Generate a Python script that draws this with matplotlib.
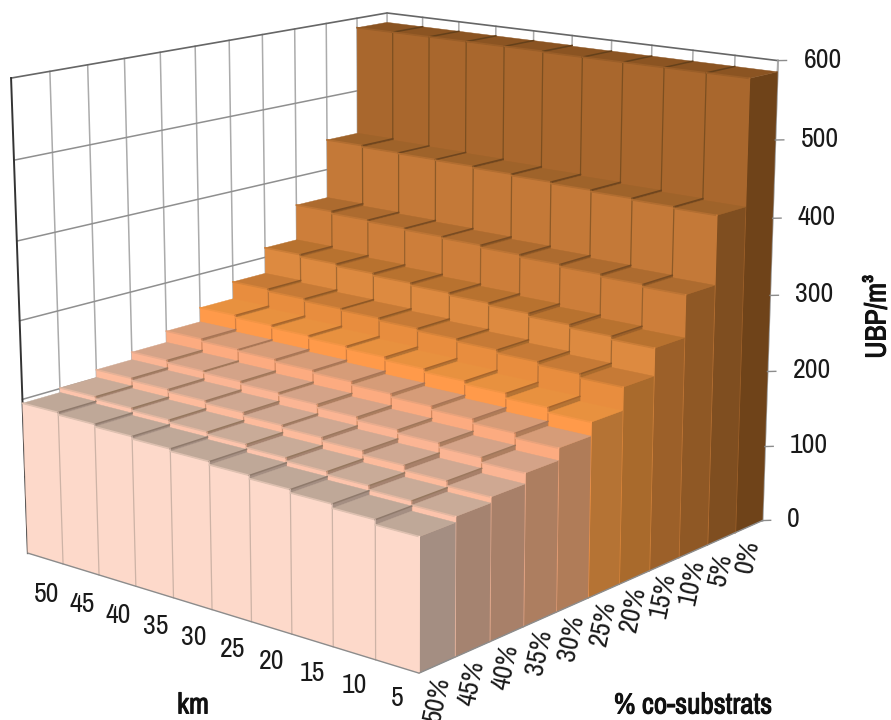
import numpy as np
import matplotlib
matplotlib.use('Agg')
import matplotlib.pyplot as plt
import matplotlib.colors as mcolors
import matplotlib.patheffects as pe

plt.rcParams['font.family'] = ['Archivo Narrow', 'PT Sans Narrow', 'Liberation Sans', 'DejaVu Sans']

# data
km_labels = ['50', '45', '40', '35', '30', '25', '20', '15', '10', '5']
cosub_labels = ['50%', '45%', '40%', '35%', '30%', '25%', '20%', '15%', '10%', '5%', '0%']
z_ticks = [0, 100, 200, 300, 400, 500, 600]

pct50 = [195, 192, 189, 186, 183, 179, 175, 171, 166, 160]
pct45 = [201, 198, 195, 192, 189, 185, 181, 177, 172, 167]
pct40 = [211, 208, 205, 202, 198, 195, 191, 186, 180, 174]
pct35 = [221, 218, 216, 213, 210, 206, 202, 198, 193, 187]
pct30 = [236, 233, 231, 228, 225, 221, 217, 213, 208, 202]
pct25 = [255, 252, 249, 246, 243, 239, 235, 231, 225, 219]
pct20 = [278, 275, 272, 270, 267, 264, 261, 257, 253, 248]
pct15 = [313, 310, 307, 304, 301, 298, 295, 291, 287, 283]
pct10 = [361, 358, 356, 354, 352, 349, 346, 343, 340, 337]
pct5 = [441, 439, 438, 437, 435, 433, 431, 429, 427, 425]
pct0 = [587, 587, 587, 587, 587, 586, 586, 586, 586, 586]
rows = [pct50, pct45, pct40, pct35, pct30, pct25, pct20, pct15, pct10, pct5, pct0]

# colours per row: front, top, side, front divider, top divider
front_cols = ['#fdd9ca', '#fdc4ac', '#fdbb9c', '#fbb594', '#fcab80', '#ff9a4a', '#e88d3e', '#dd8a40', '#cd7e3a', '#c47938', '#a9672d']
top_cols = ['#bfa898', '#c9ab98', '#cfa892', '#d4a388', '#d69c78', '#e8913f', '#c67a36', '#b8722f', '#ad6b2f', '#9f632a', '#8b5422']
side_cols = ['#a48e82', '#a58370', '#a88069', '#ad7e60', '#b07c58', '#b57334', '#a96a2c', '#9c6029', '#8f5825', '#7f4e20', '#6f4319']
edge_cols = ['#cdb3a6', '#d09a80', '#d09578', '#d39068', '#d58a60', '#d47f40', '#b87236', '#a56930', '#9a622c', '#8d5a27', '#7c4f20']
top_edges = ['#8f7a6c', '#96785f', '#9c785e', '#a0775a', '#a87556', '#a8652c', '#8f5826', '#835124', '#784b22', '#6e451e', '#64401a']

# camera: world points (x, y, z) and where they sit on the picture
world = [(0, 0, 0), (5, 0, 0), (10, 0, 0), (10, 5, 0), (10, 11, 0), (0, 0, 600), (0, 11, 600),
         (10, 11, 600), (10, 11, 100), (10, 11, 200), (10, 11, 300), (10, 11, 400), (10, 11, 500)]
pixels = [(28, 553), (212, 610), (419, 673), (588, 598), (762, 521), (11, 78), (387, 13),
          (778, 61), (765, 446), (768, 372), (770, 295), (773, 218), (775, 140)]

A = []
for (X, Y, Z), (u, v) in zip(world, pixels):
    Z = Z / 100
    A.append([X, Y, Z, 1, 0, 0, 0, 0, -u * X, -u * Y, -u * Z, -u])
    A.append([0, 0, 0, 0, X, Y, Z, 1, -v * X, -v * Y, -v * Z, -v])
P = np.linalg.svd(np.array(A, dtype=float))[2][-1].reshape(3, 4)
P[:, 2] = P[:, 2] / 100

fig = plt.figure(figsize=(8.91, 7.2), dpi=100)
ax = fig.add_axes([0, -0.11875, 1, 1.2375], projection='3d', computed_zorder=False)
ax.set_axis_off()


def picture_proj():
    # pixels -> display -> the 2d limits of the axes
    flip = np.array([[1, 0, 0], [0, -1, 720], [0, 0, 1.0]])
    to_data = ax.transData.inverted().get_matrix()
    Q = to_data @ flip @ P
    return np.array([Q[0], Q[1], [0, 0, 1, 0], Q[2]])


ax.get_proj = picture_proj


def put_text(x, y, z, s, **kw):
    h = P @ np.array([x, y, z, 1.0])
    fig.text(h[0] / h[2] / 891, 1 - h[1] / h[2] / 720, s, color='#1a1a1a', va='center', **kw)


# walls
for i in range(1, 12):
    ax.plot([0, 0], [i, i], [0, 600], c='#ababab', lw=1.1, zorder=1)
for i in range(1, 11):
    ax.plot([i, i], [11, 11], [0, 600], c='#ababab', lw=1.1, zorder=1)
for v in z_ticks[1:-1]:
    ax.plot([0, 0], [0, 11], [v, v], c='#8f8f8f', lw=1.1, zorder=1)
ax.plot([0, 0, 10], [0, 11, 11], [600, 600, 600], c='#666666', lw=1.2, zorder=1)
ax.plot([0, 0], [0, 0], [0, 600], c='#333333', lw=1.4, zorder=1)
ax.plot([10, 10], [11, 11], [0, 600], c='#aaaaaa', lw=1.4, zorder=1)

# bars, back row first, left to right
for i in range(10, -1, -1):
    soft = (np.array(mcolors.to_rgb(top_cols[i])) + np.array(mcolors.to_rgb(front_cols[i]))) / 2
    for j in range(10):
        h = rows[i][j]
        faces = ['none', top_cols[i], front_cols[i], 'none', 'none', side_cols[i]]
        edges = ['none', top_cols[i], front_cols[i], 'none', 'none', side_cols[i]]
        ax.bar3d(j, i, 0, 1, 1, h, color=faces, edgecolors=edges, linewidths=0.3, shade=False, zorder=2)
    # dividers go over the whole row
    for j in range(10):
        h = rows[i][j]
        ax.plot([j, j + 1], [i, i], [h, h], c=soft, lw=1.2, zorder=2)
        if j < 9:
            ax.plot([j + 1, j + 1], [i, i + 1], [h, h], c=top_edges[i], lw=1.1, zorder=2)
            ax.plot([j + 1, j + 1], [i, i], [0, h], c=edge_cols[i], lw=0.9, zorder=2)
        else:
            ax.plot([j + 1, j + 1], [i, i], [0, h], c=front_cols[i], lw=1.1, zorder=2)

# axis lines and ticks
tick_c = '#8c8c8c'
ax.plot([0, 10, 10], [0, 0, 11], [0, 0, 0], c=tick_c, lw=1, zorder=3)
for j in range(11):
    ax.plot([j, j], [0, 0], [0, -10], c=tick_c, lw=1, zorder=3)
for i in range(12):
    ax.plot([10, 10], [i, i], [0, -10], c=tick_c, lw=1, zorder=3)
for v in z_ticks:
    ax.plot([10, 10.12], [11, 11.12], [v, v], c=tick_c, lw=1, zorder=3)

# labels
for j, lab in enumerate(km_labels):
    put_text(j + 0.5, 0, -47 + j, lab, fontsize=20, ha='center')
for i, lab in enumerate(cosub_labels):
    put_text(10, i + 0.5, -41, lab, fontsize=20, rotation=78, ha='center', rotation_mode='anchor')
for v in z_ticks:
    put_text(10.36, 11.36, v, str(v), fontsize=20, ha='left')

heavy = [pe.withStroke(linewidth=0.7, foreground='#111111')]
fig.text(193 / 891, 1 - 705 / 720, 'km', fontsize=21, ha='center', va='center', color='#111111', path_effects=heavy)
fig.text(693 / 891, 1 - 705 / 720, '% co-substrats', fontsize=21, ha='center', va='center', color='#111111', path_effects=heavy)
fig.text(877 / 891, 1 - 317 / 720, 'UBP/m³', fontsize=21, rotation=90, ha='center', va='center', color='#111111', path_effects=heavy)

fig.savefig('out.png', dpi=100)
